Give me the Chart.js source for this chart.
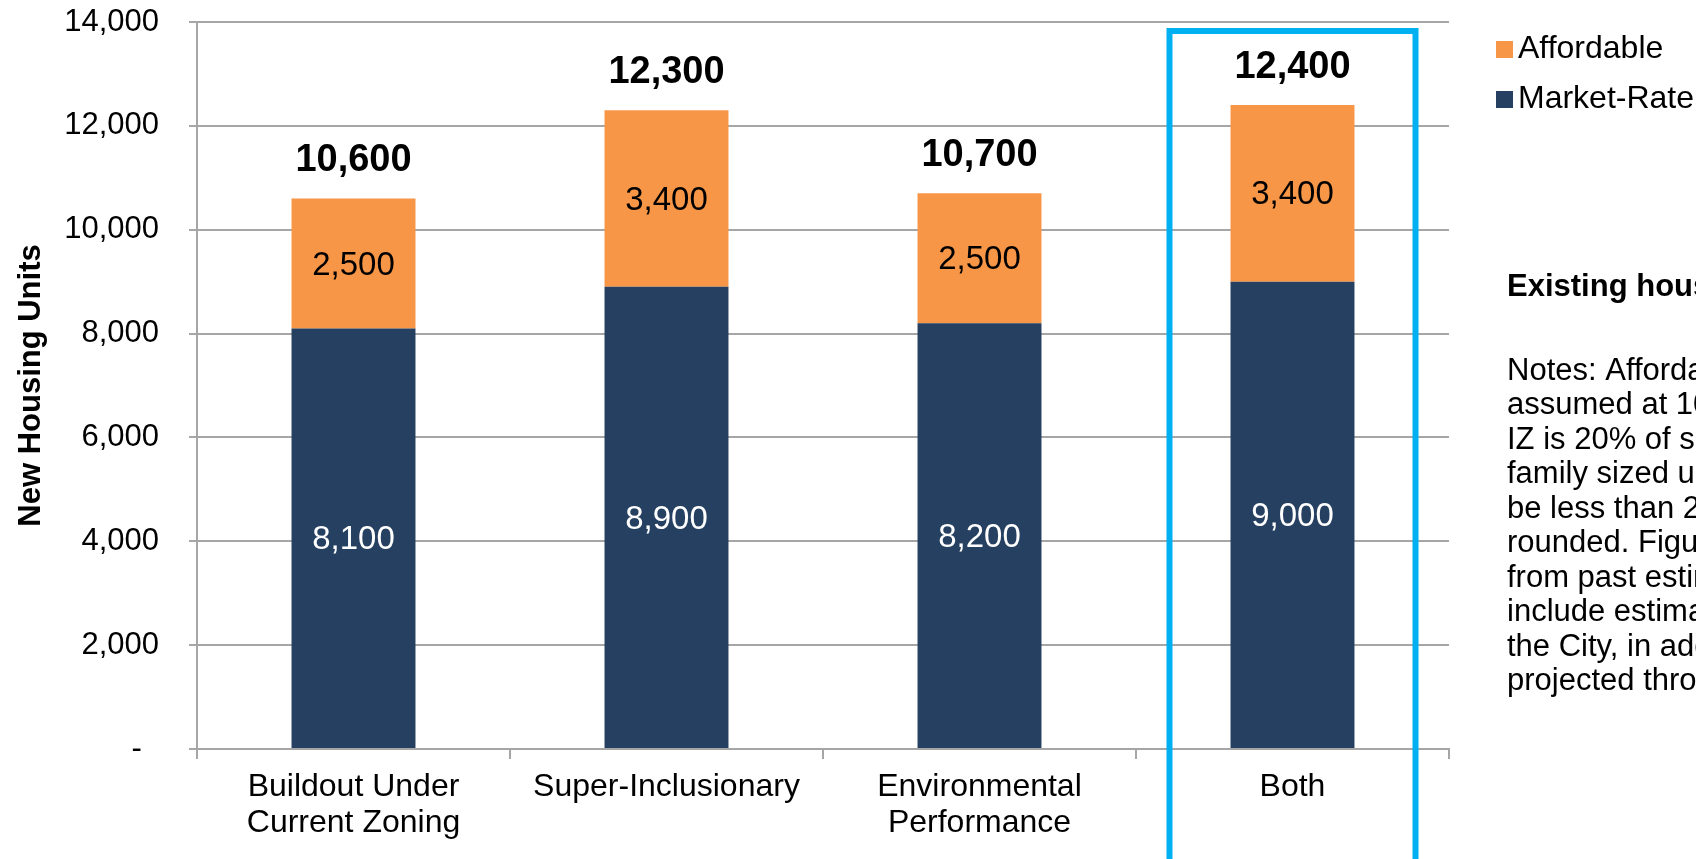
<!DOCTYPE html>
<html>
<head>
<meta charset="utf-8">
<script src="https://cdn.jsdelivr.net/npm/chart.js@4.4.0/dist/chart.umd.min.js"></script>
<style>
  html, body { margin: 0; padding: 0; background: #ffffff; }
  #wrap { width: 1696px; height: 859px; position: relative; }
</style>
</head>
<body>
<div id="wrap"><canvas id="grafico" width="1696" height="859"></canvas></div>
<script>
// ---- data ----
const categories = [
    ["Buildout Under", "Current Zoning"],
    "Super-Inclusionary",
    ["Environmental", "Performance"],
    "Both"
];
const marketRate = [8100, 8900, 8200, 9000];
const affordable = [2500, 3400, 2500, 3400];
const totals = [10600, 12300, 10700, 12400];
const yTicks = [0, 2000, 4000, 6000, 8000, 10000, 12000, 14000];
const legendLabels = ["Affordable", "Market-Rate"];
const sideTitle = "Existing housing";
const sideNotes = [
    "Notes: Affordable",
    "assumed at 10%",
    "IZ is 20% of sq",
    "family sized units",
    "be less than 20%",
    "rounded. Figures",
    "from past estimates",
    "include estimates",
    "the City, in addition",
    "projected through"
];

const FONT = "'Liberation Sans', Arial, sans-serif";
const NAVY = "#264061";
const ORANGE = "#F79646";
const GRID = "#A6A6A6";

const fmt = v => v.toLocaleString("en-US");

// labels, highlight box, legend and side notes
const extras = {
    id: "extras",
    afterDatasetsDraw(chart) {
        const c = chart.ctx;
        const mr = chart.getDatasetMeta(0).data;
        const af = chart.getDatasetMeta(1).data;
        c.save();
        c.textAlign = "center";
        c.textBaseline = "middle";
        mr.forEach((bar, i) => {
            c.font = "33px " + FONT;
            c.fillStyle = "#ffffff";
            c.fillText(fmt(marketRate[i]), bar.x, (bar.y + bar.base) / 2 + 2);
        });
        af.forEach((bar, i) => {
            c.fillStyle = "#000000";
            c.font = "33px " + FONT;
            c.fillText(fmt(affordable[i]), bar.x, (bar.y + bar.base) / 2 + 2);
            c.font = "bold 38px " + FONT;
            c.fillText(fmt(totals[i]), bar.x, bar.y - 38);
        });
        c.restore();
    },
    afterDraw(chart) {
        const c = chart.ctx;
        const x = chart.scales.x;
        const area = chart.chartArea;
        const catW = (area.right - area.left) / categories.length;
        const cx = x.getPixelForValue(3);

        // highlight box around "Both"
        c.save();
        c.strokeStyle = "#00B0F0";
        c.lineWidth = 6;
        c.strokeRect(cx - catW * 0.393, area.top + 9, catW * 0.786, chart.height);
        c.restore();

        // legend
        c.save();
        c.font = "32px " + FONT;
        c.textBaseline = "middle";
        c.textAlign = "left";
        const legendColors = [ORANGE, NAVY];
        legendLabels.forEach((t, i) => {
            const y = 49 + i * 50;
            c.fillStyle = legendColors[i];
            c.fillRect(1496, y - 8, 17, 17);
            c.fillStyle = "#000000";
            c.fillText(t, 1518, y);
        });

        // side notes
        c.font = "bold 31px " + FONT;
        c.fillText(sideTitle, 1507, 287);
        c.font = "31px " + FONT;
        sideNotes.forEach((t, i) => {
            c.fillText(t, 1507, 371 + i * 34.5);
        });
        c.restore();
    }
};

const grafico = new Chart(document.getElementById("grafico"), {
    type: "bar",
    data: {
        labels: categories,
        datasets: [
            {
                label: "Market-Rate",
                data: marketRate,
                backgroundColor: NAVY,
                categoryPercentage: 1,
                barPercentage: 0.396
            },
            {
                label: "Affordable",
                data: affordable,
                backgroundColor: ORANGE,
                categoryPercentage: 1,
                barPercentage: 0.396
            }
        ]
    },
    options: {
        responsive: false,
        animation: false,
        layout: {
            padding: { left: 5, right: 247, top: 22, bottom: 18 }
        },
        plugins: {
            legend: { display: false },
            tooltip: { enabled: false }
        },
        scales: {
            x: {
                stacked: true,
                grid: {
                    drawOnChartArea: false,
                    drawTicks: true,
                    tickLength: 10,
                    color: GRID,
                    lineWidth: 2
                },
                border: { color: GRID, width: 2 },
                ticks: {
                    color: "#000000",
                    padding: 10,
                    maxRotation: 0,
                    font: { family: FONT, size: 32, lineHeight: 1.13 }
                },
                afterFit(scale) { scale.height = 92; }
            },
            y: {
                stacked: true,
                min: 0,
                max: 14000,
                afterBuildTicks(scale) {
                    scale.ticks = yTicks.map(v => ({ value: v }));
                },
                grid: {
                    color: GRID,
                    lineWidth: 2,
                    tickLength: 8
                },
                border: { color: GRID, width: 2 },
                ticks: {
                    color: "#000000",
                    padding: 30,
                    font: { family: FONT, size: 31 },
                    callback: v => v === 0 ? "-  " : fmt(v)
                },
                title: {
                    display: true,
                    text: "New Housing Units",
                    color: "#000000",
                    padding: { top: 8, bottom: 0 },
                    font: { family: FONT, size: 31, weight: "bold" }
                },
                afterFit(scale) {
                    scale.width = 192;
                    scale.paddingTop = 0;
                    scale.paddingBottom = 0;
                }
            }
        }
    },
    plugins: [extras]
});
</script>
</body>
</html>
